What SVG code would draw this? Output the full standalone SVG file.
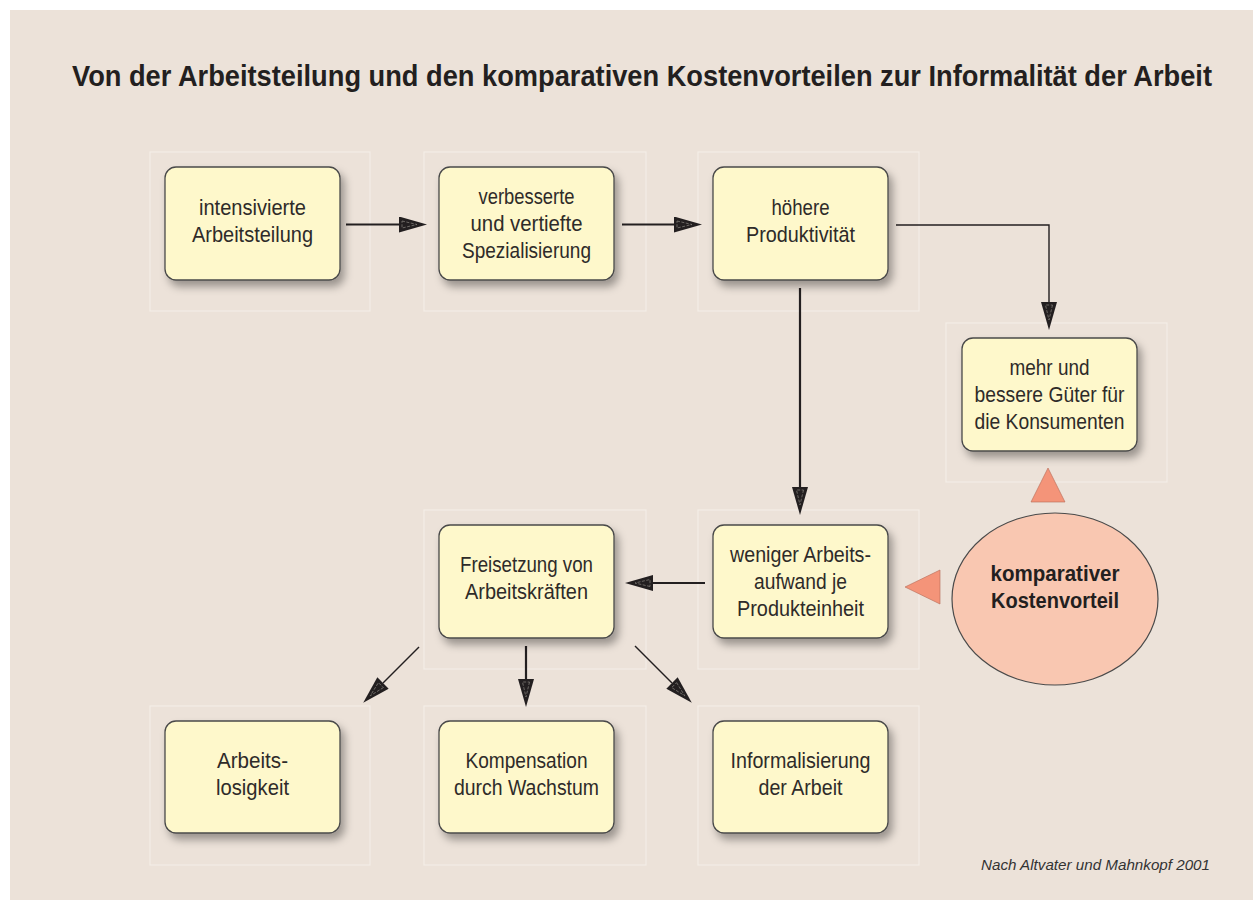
<svg xmlns="http://www.w3.org/2000/svg" width="1253" height="900" viewBox="0 0 1253 900">
<style>
.bg{fill:#ece2d9}
.frame{fill:none;stroke:#f3ede6;stroke-width:1.2}
.box{fill:#fef8cb;stroke:#4a4a4a;stroke-width:1.3}
.t{font-family:"Liberation Sans",Arial,sans-serif;font-size:22px;fill:#2e2b29;text-anchor:middle}
.tb{font-family:"Liberation Sans",Arial,sans-serif;font-size:22px;font-weight:bold;fill:#231f20;text-anchor:middle}
.title{font-family:"Liberation Sans",Arial,sans-serif;font-size:29px;font-weight:bold;fill:#231f20}
.foot{font-family:"Liberation Sans",Arial,sans-serif;font-size:15px;font-style:italic;fill:#333}
.c{fill:none;stroke:#231f20;stroke-width:2.2}
.ct{fill:none;stroke:#231f20;stroke-width:1.4}
.tri{fill:#f49479;stroke:#b56a55;stroke-width:0.6}
</style>
<defs>
<filter id="sh" x="-20%" y="-20%" width="150%" height="160%">
<feDropShadow dx="4" dy="6" stdDeviation="4" flood-color="#000" flood-opacity="0.35"/>
</filter>
<marker id="ah" viewBox="0 0 28 16" refX="0" refY="8" markerWidth="28" markerHeight="16" markerUnits="userSpaceOnUse" orient="auto">
<path d="M0,0 L28,8 L0,16 Z" fill="#231f20"/>
<path d="M3,4.5 L18,8 L3,11.5 Z" fill="none" stroke="#8a8580" stroke-width="0.7" stroke-dasharray="3,1.5"/>
</marker>
</defs>
<rect class="bg" x="10" y="10" width="1243" height="890"/>
<text class="title" transform="translate(72,86) scale(0.8,1)" x="0" y="0" textLength="1425" lengthAdjust="spacingAndGlyphs">Von der Arbeitsteilung und den komparativen Kostenvorteilen zur Informalität der Arbeit</text>

<g id="frames">
<rect class="frame" x="150" y="152" width="220" height="159"/>
<rect class="frame" x="424" y="152" width="222" height="159"/>
<rect class="frame" x="698" y="152" width="221" height="159"/>
<rect class="frame" x="946" y="323" width="221" height="159"/>
<rect class="frame" x="424" y="510" width="222" height="159"/>
<rect class="frame" x="698" y="510" width="221" height="159"/>
<rect class="frame" x="150" y="706" width="220" height="159"/>
<rect class="frame" x="424" y="706" width="222" height="159"/>
<rect class="frame" x="698" y="706" width="221" height="159"/>
</g>

<g id="connectors">
<path class="c" d="M346,224.5 H399" marker-end="url(#ah)"/>
<path class="c" d="M622,224.5 H674" marker-end="url(#ah)"/>
<path class="ct" d="M896,225 H1049 V302" marker-end="url(#ah)"/>
<path class="c" d="M800,288 V487" marker-end="url(#ah)"/>
<path class="c" d="M705,583 H653" marker-end="url(#ah)"/>
<path class="ct" d="M419,647 L383,683" marker-end="url(#ah)"/>
<path class="c" d="M526,646 V679" marker-end="url(#ah)"/>
<path class="ct" d="M635,646 L672,683" marker-end="url(#ah)"/>
<polygon class="tri" points="1048,468 1065,502 1031,502"/>
<polygon class="tri" points="905,587 940,570 940,604"/>
</g>

<g id="n1">
<rect class="box" x="165" y="167" width="175" height="113" rx="11" filter="url(#sh)"/>
<text class="t" x="252.5" y="215" textLength="107" lengthAdjust="spacingAndGlyphs">intensivierte</text>
<text class="t" x="252.5" y="242" textLength="121" lengthAdjust="spacingAndGlyphs">Arbeitsteilung</text>
</g>
<g id="n2">
<rect class="box" x="439" y="167" width="175" height="113" rx="11" filter="url(#sh)"/>
<text class="t" x="526.5" y="204" textLength="96" lengthAdjust="spacingAndGlyphs">verbesserte</text>
<text class="t" x="526.5" y="231" textLength="112" lengthAdjust="spacingAndGlyphs">und vertiefte</text>
<text class="t" x="526.5" y="258" textLength="129" lengthAdjust="spacingAndGlyphs">Spezialisierung</text>
</g>
<g id="n3">
<rect class="box" x="713" y="167" width="175" height="113" rx="11" filter="url(#sh)"/>
<text class="t" x="800.5" y="215" textLength="58" lengthAdjust="spacingAndGlyphs">höhere</text>
<text class="t" x="800.5" y="242" textLength="109" lengthAdjust="spacingAndGlyphs">Produktivität</text>
</g>
<g id="n4">
<rect class="box" x="962" y="338" width="175" height="113" rx="11" filter="url(#sh)"/>
<text class="t" x="1049.5" y="375" textLength="80" lengthAdjust="spacingAndGlyphs">mehr und</text>
<text class="t" x="1049.5" y="402" textLength="150" lengthAdjust="spacingAndGlyphs">bessere Güter für</text>
<text class="t" x="1049.5" y="429" textLength="150" lengthAdjust="spacingAndGlyphs">die Konsumenten</text>
</g>
<g id="n5">
<rect class="box" x="713" y="525" width="175" height="113" rx="11" filter="url(#sh)"/>
<text class="t" x="800.5" y="562" textLength="141" lengthAdjust="spacingAndGlyphs">weniger Arbeits-</text>
<text class="t" x="800.5" y="589" textLength="93" lengthAdjust="spacingAndGlyphs">aufwand je</text>
<text class="t" x="800.5" y="616" textLength="127" lengthAdjust="spacingAndGlyphs">Produkteinheit</text>
</g>
<g id="n6">
<rect class="box" x="439" y="525" width="175" height="113" rx="11" filter="url(#sh)"/>
<text class="t" x="526.5" y="572" textLength="133" lengthAdjust="spacingAndGlyphs">Freisetzung von</text>
<text class="t" x="526.5" y="599" textLength="123" lengthAdjust="spacingAndGlyphs">Arbeitskräften</text>
</g>
<g id="n7">
<rect class="box" x="165" y="721" width="175" height="112" rx="11" filter="url(#sh)"/>
<text class="t" x="252.5" y="768" textLength="71" lengthAdjust="spacingAndGlyphs">Arbeits-</text>
<text class="t" x="252.5" y="795" textLength="73" lengthAdjust="spacingAndGlyphs">losigkeit</text>
</g>
<g id="n8">
<rect class="box" x="439" y="721" width="175" height="112" rx="11" filter="url(#sh)"/>
<text class="t" x="526.5" y="768" textLength="122" lengthAdjust="spacingAndGlyphs">Kompensation</text>
<text class="t" x="526.5" y="795" textLength="145" lengthAdjust="spacingAndGlyphs">durch Wachstum</text>
</g>
<g id="n9">
<rect class="box" x="713" y="721" width="175" height="112" rx="11" filter="url(#sh)"/>
<text class="t" x="800.5" y="768" textLength="140" lengthAdjust="spacingAndGlyphs">Informalisierung</text>
<text class="t" x="800.5" y="795" textLength="84" lengthAdjust="spacingAndGlyphs">der Arbeit</text>
</g>
<g id="n10">
<ellipse cx="1055" cy="599" rx="103" ry="86" fill="#f9c7b1" stroke="#4a4a4a" stroke-width="1.2"/>
<text class="tb" x="1055" y="581" textLength="129" lengthAdjust="spacingAndGlyphs">komparativer</text>
<text class="tb" x="1055" y="608" textLength="128" lengthAdjust="spacingAndGlyphs">Kostenvorteil</text>
</g>
<text class="foot" x="981" y="870" textLength="229" lengthAdjust="spacingAndGlyphs">Nach Altvater und Mahnkopf 2001</text>
</svg>
